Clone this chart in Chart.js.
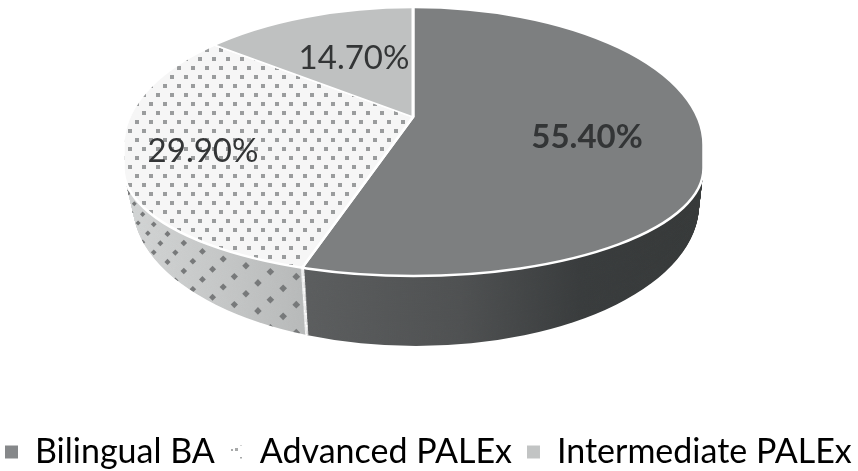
<!DOCTYPE html>
<html>
<head>
<meta charset="utf-8">
<script src="https://cdn.jsdelivr.net/npm/chart.js@4"></script>
<style>
body { margin: 0; background: #fff; }
canvas { display: block; }
</style>
</head>
<body>
<canvas id="pieChart" width="858" height="471"></canvas>
<script>
var categories = ['Bilingual BA', 'Advanced PALEx', 'Intermediate PALEx'];
var shares = [55.4, 29.9, 14.7];

var FONT = 'Lato';
var TEXT = '#333536';
var APEX = { x: 413, y: 117 };
// the rim is egg shaped: the near half is flatter than the far half
var TOP_RIM = { x: 413.5, rx: 290, farY: 145, farR: 138, nearY: 168, nearR: 108 };
var BOTTOM_RIM = { x: 416, rx: 283, farY: 182, farR: 138, nearY: 205, nearR: 141 };
var DEPTH = 73;
var SQUASH = 0.48;
var LABEL_POS = [[587, 137], [203, 151], [354, 58]];

function makeCanvas(w, h) {
    var c = document.createElement('canvas');
    c.width = w;
    c.height = h;
    return c;
}

// dotted top of the Advanced slice
function dottedTop() {
    var c = makeCanvas(14, 18), g = c.getContext('2d');
    g.fillStyle = '#f6f6f6';
    g.fillRect(0, 0, 14, 18);
    g.fillStyle = '#9a9c9d';
    g.fillRect(2, 3, 4, 4);
    g.fillRect(9, 12, 4, 4);
    return c;
}

// side walls, painted in page coordinates so the sweep does not smear them
function wallDark() {
    var c = makeCanvas(858, 471), g = c.getContext('2d');
    var grad = g.createLinearGradient(300, 0, 700, 0);
    grad.addColorStop(0, '#5c5e5f');
    grad.addColorStop(0.4, '#4f5152');
    grad.addColorStop(0.7, '#393c3d');
    grad.addColorStop(1, '#363939');
    g.fillStyle = grad;
    g.fillRect(0, 0, 858, 471);
    return c;
}

function wallDotted() {
    var c = makeCanvas(858, 471), g = c.getContext('2d');
    var grad = g.createLinearGradient(124, 0, 300, 0);
    grad.addColorStop(0, '#d2d4d4');
    grad.addColorStop(0.5, '#c6c8c8');
    grad.addColorStop(1, '#b8baba');
    g.fillStyle = grad;
    g.fillRect(0, 0, 858, 471);
    g.fillStyle = '#77797a';
    for (var row = 0; row < 5; row++) {
        for (var col = 0; col < 12; col++) {
            var a = (24 + col * 5.8 + (row % 2) * 2.9) * Math.PI / 180;
            var x = 413 - 287 * Math.sin(a);
            var y = 168 + 108 * Math.cos(a) + 10 + row * 14;
            var size = 2.8 + 3 * Math.cos(a);
            g.save();
            g.translate(x, y);
            g.rotate(Math.PI / 4);
            g.fillRect(-size / 2, -size / 2, size, size);
            g.restore();
        }
    }
    return c;
}

var ctxProbe = document.createElement('canvas').getContext('2d');
var topPattern = ctxProbe.createPattern(dottedTop(), 'repeat');
var wallPatterns = [
    ctxProbe.createPattern(wallDark(), 'no-repeat'),
    ctxProbe.createPattern(wallDotted(), 'no-repeat'),
    '#9a9c9c'
];

function legendSwatch() {
    var c = makeCanvas(13, 13), g = c.getContext('2d');
    g.fillStyle = '#a8aaaa';
    g.fillRect(1, 6, 3, 3);
    g.fillRect(6, 2, 2, 2);
    g.fillRect(10, 7, 2, 2);
    return ctxProbe.createPattern(c, 'repeat');
}
var legendColors = ['#86888a', legendSwatch(), '#c2c4c4'];

function rimPath(ctx, e) {
    ctx.beginPath();
    ctx.ellipse(e.x, e.farY, e.rx, e.farR, 0, Math.PI, Math.PI * 2);
    ctx.ellipse(e.x, e.nearY, e.rx, e.nearR, 0, 0, Math.PI);
    ctx.closePath();
}

function placeSlices(ctx, arc, dy) {
    ctx.translate(APEX.x, APEX.y + dy);
    ctx.scale(1, SQUASH);
    ctx.translate(-arc.x, -arc.y);
}

function fixPattern(ctx, p) {
    if (p instanceof CanvasPattern) {
        p.setTransform(ctx.getTransform().inverse());
    }
}

function mixRim(f) {
    var out = {};
    Object.keys(TOP_RIM).forEach(function (k) {
        out[k] = TOP_RIM[k] + (BOTTOM_RIM[k] - TOP_RIM[k]) * f;
    });
    return out;
}

var pie3d = {
    id: 'pie3d',
    afterLayout: function (chart) {
        // fit() ran with a small padding so the row stays whole, now open it up
        var legend = chart.legend;
        legend.options.labels.padding = 15;
        legend.left = 5 - 15;
        legend.right = 900;
        legend.top = 435 - 15;
    },
    beforeDatasetsDraw: function (chart) {
        var ctx = chart.ctx;
        var arcs = chart.getDatasetMeta(0).data;
        // extrude the wedges from the bottom rim up
        for (var i = DEPTH; i > 0; i--) {
            ctx.save();
            rimPath(ctx, mixRim(i / DEPTH));
            ctx.clip();
            placeSlices(ctx, arcs[0], i);
            arcs.forEach(function (arc, n) {
                var saved = arc.options;
                fixPattern(ctx, wallPatterns[n]);
                arc.options = Object.assign({}, saved, { backgroundColor: wallPatterns[n] });
                arc.draw(ctx);
                arc.options = saved;
            });
            ctx.restore();
        }
        ctx.save();
        rimPath(ctx, TOP_RIM);
        ctx.clip();
        placeSlices(ctx, arcs[0], 0);
        fixPattern(ctx, topPattern);
    },
    afterDatasetsDraw: function (chart) {
        var ctx = chart.ctx;
        ctx.restore();
        rimPath(ctx, TOP_RIM);
        ctx.strokeStyle = '#fff';
        ctx.lineWidth = 2.5;
        ctx.stroke();

        ctx.fillStyle = TEXT;
        ctx.textAlign = 'center';
        ctx.textBaseline = 'middle';
        shares.forEach(function (v, n) {
            ctx.font = (n === 0 ? 'bold ' : '') + '33px ' + FONT;
            ctx.fillText(v.toFixed(2) + '%', LABEL_POS[n][0], LABEL_POS[n][1]);
        });
    }
};

new Chart(document.getElementById('pieChart'), {
    type: 'pie',
    data: {
        labels: categories,
        datasets: [{
            data: shares,
            backgroundColor: ['#7d7f80', topPattern, '#bfc1c1'],
            borderColor: '#fff',
            borderWidth: 3,
            clip: false
        }]
    },
    options: {
        responsive: false,
        animation: false,
        radius: 700,
        plugins: {
            tooltip: { enabled: false },
            legend: {
                position: 'bottom',
                align: 'start',
                labels: {
                    boxWidth: 13,
                    boxHeight: 13,
                    padding: 4,
                    color: TEXT,
                    font: { family: FONT, size: 34 },
                    generateLabels: function () {
                        return categories.map(function (name, n) {
                            return { text: name, fillStyle: legendColors[n], lineWidth: 0, strokeStyle: 'transparent', index: n };
                        });
                    }
                }
            }
        }
    },
    plugins: [pie3d]
});
</script>
</body>
</html>
